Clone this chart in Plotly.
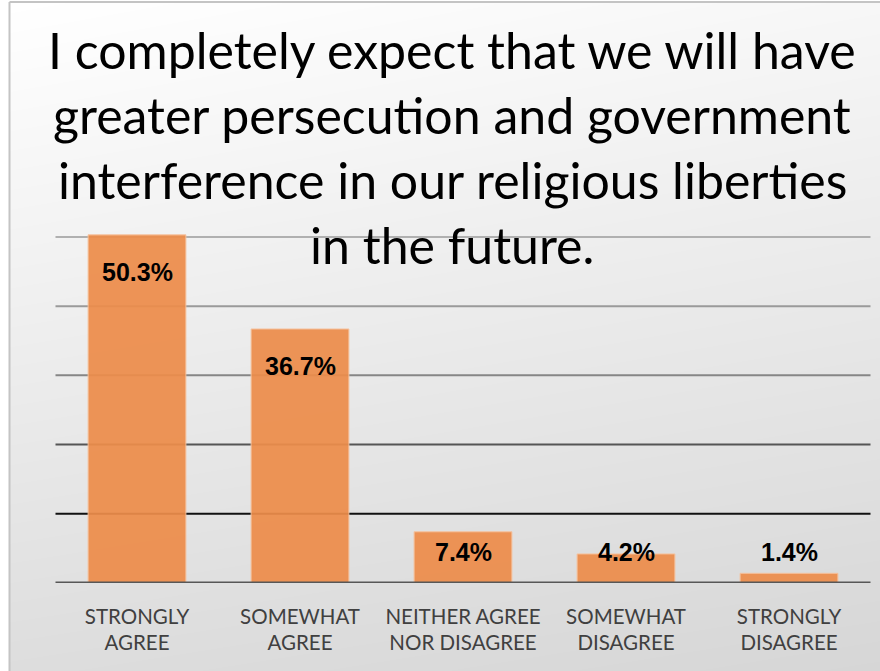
import plotly.graph_objects as go

# Survey responses
categories = ["STRONGLY<br>AGREE", "SOMEWHAT<br>AGREE", "NEITHER AGREE<br>NOR DISAGREE",
              "SOMEWHAT<br>DISAGREE", "STRONGLY<br>DISAGREE"]
percent = [50.3, 36.7, 7.4, 4.2, 1.4]
title_lines = ["I completely expect that we will have",
               "greater persecution and government",
               "interference in our religious liberties",
               "in the future."]
grid_values = [10, 20, 30, 40, 50]
grid_colors = ["#111111", "#555555", "#868686", "#9a9a9a", "#b0b0b0"]

W, H = 880, 671
fig = go.Figure()

# Soft diagonal grey background
fig.add_trace(go.Heatmap(
    x=[0, 1], y=[0, 1], z=[[221, 214], [255, 247]],
    zmin=200, zmax=255, zsmooth="best", showscale=False, hoverinfo="skip",
    colorscale=[[0, "rgb(200,200,200)"], [1, "rgb(255,255,255)"]],
    xaxis="x", yaxis="y"))

fig.add_trace(go.Bar(
    x=categories, y=percent, width=0.6,
    marker=dict(color="#ED8D4B", opacity=0.93,
                line=dict(color="#F7C19B", width=1)),
    xaxis="x2", yaxis="y2", hoverinfo="skip"))

n = len(categories)
shapes = []
for v, c in zip(grid_values, grid_colors):
    shapes.append(dict(type="line", xref="x2", yref="y2", x0=-0.5, x1=n - 0.5,
                       y0=v, y1=v, layer="below", line=dict(color=c, width=2)))
shapes.append(dict(type="line", xref="x2", yref="y2", x0=-0.5, x1=n - 0.5,
                   y0=0, y1=0, layer="above", line=dict(color="#575757", width=3)))
# frame on left and top
shapes.append(dict(type="line", xref="paper", yref="paper", x0=9.5 / W, x1=9.5 / W,
                   y0=0, y1=1 - 2 / H, layer="above", line=dict(color="#c4c4c4", width=2)))
shapes.append(dict(type="line", xref="paper", yref="paper", x0=9.5 / W, x1=1,
                   y0=1 - 2 / H, y1=1 - 2 / H, layer="above", line=dict(color="#c4c4c4", width=2)))

annotations = []
px_per_unit = 353 / 51.0
for cat, v in zip(categories, percent):
    ypos = max(v - 37 / px_per_unit, 4.5)
    annotations.append(dict(x=cat, y=ypos, xref="x2", yref="y2", text=f"{v}%",
                            showarrow=False, yanchor="middle",
                            font=dict(family="Liberation Sans", size=25, color="black",
                                      weight="bold")))
title_y = [50, 115, 180, 245]
for line, ty in zip(title_lines, title_y):
    annotations.append(dict(x=452 / W, y=1 - ty / H, xref="paper", yref="paper",
                            text=line, showarrow=False, yanchor="middle",
                            font=dict(family="Lato", size=50, color="black")))

fig.update_layout(
    width=W, height=H, margin=dict(l=0, r=0, t=0, b=0),
    paper_bgcolor="white", plot_bgcolor="rgba(0,0,0,0)",
    showlegend=False, bargap=0.4,
    xaxis=dict(domain=[10 / W, 1], range=[0, 1], visible=False, fixedrange=True),
    yaxis=dict(domain=[0, 1 - 3 / H], range=[0, 1], visible=False, fixedrange=True),
    xaxis2=dict(domain=[54 / W, 872 / W], anchor="y2", showgrid=False, showline=False,
                ticks="", ticklabelstandoff=19,
                tickfont=dict(family="Lato", size=20.5, color="#404040")),
    yaxis2=dict(domain=[88 / H, (H - 230) / H], anchor="x2", range=[0, 51],
                showgrid=False, zeroline=False, showticklabels=False, ticks=""),
    shapes=shapes, annotations=annotations,
)

fig.write_html("out.html")
